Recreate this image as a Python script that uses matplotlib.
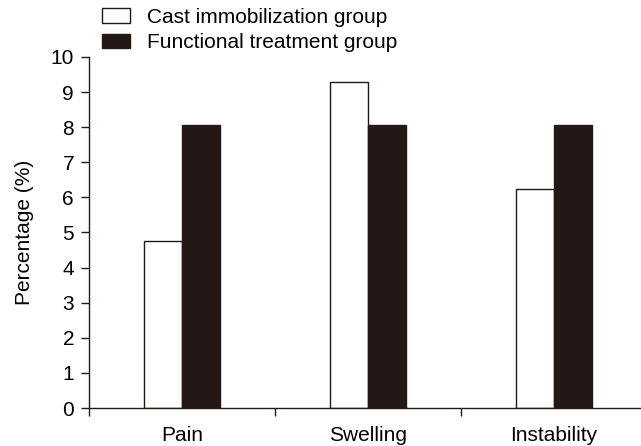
import matplotlib
matplotlib.use("Agg")
import matplotlib.pyplot as plt
import numpy as np

plt.rcParams['font.family'] = ['Liberation Sans', 'DejaVu Sans']

# data
categories = ['Pain', 'Swelling', 'Instability']
cast_group = [4.75, 9.3, 6.25]
functional_group = [8.05, 8.05, 8.05]
series_labels = ['Cast immobilization group', 'Functional treatment group']

dark = '#231815'
fs = 15

fig = plt.figure(figsize=(6.41, 4.46), dpi=100)
ax = fig.add_axes([89 / 641, 38 / 446, 1 - 89 / 641, (408 - 57) / 446])

x = np.arange(len(categories))
w = 0.205
ax.bar(x - w / 2, cast_group, w, color='white', edgecolor=dark, linewidth=1.0,
       label=series_labels[0])
ax.bar(x + w / 2, functional_group, w, color=dark, edgecolor=dark, linewidth=1.0,
       label=series_labels[1])

ax.set_xlim(-0.5, 2.47)
ax.set_ylim(0, 10)
ax.set_yticks(range(0, 11))
ax.set_ylabel('Percentage (%)', fontsize=fs, labelpad=12)

# category labels without ticks, separator ticks between groups
ax.set_xticks([-0.5, 0.5, 1.5])
ax.set_xticklabels([])
ax.tick_params(axis='x', direction='out', length=6, width=1, color=dark)
ax.set_xticks(x, minor=True)
ax.set_xticklabels(categories, minor=True, fontsize=fs)
ax.tick_params(axis='x', which='minor', length=0, pad=13)
ax.tick_params(axis='y', direction='out', length=5.8, width=1, color=dark,
               labelsize=fs, pad=5)

for side in ['top', 'right']:
    ax.spines[side].set_visible(False)
for side in ['left', 'bottom']:
    ax.spines[side].set_color(dark)
    ax.spines[side].set_linewidth(1)

fig.legend(loc='upper left', bbox_to_anchor=(102 / 641, 1 - 8 / 446),
           frameon=False, fontsize=fs, borderpad=0, borderaxespad=0,
           handlelength=1.35, handleheight=0.7, handletextpad=0.8,
           labelspacing=0.3)

fig.savefig('out.png', dpi=100)
